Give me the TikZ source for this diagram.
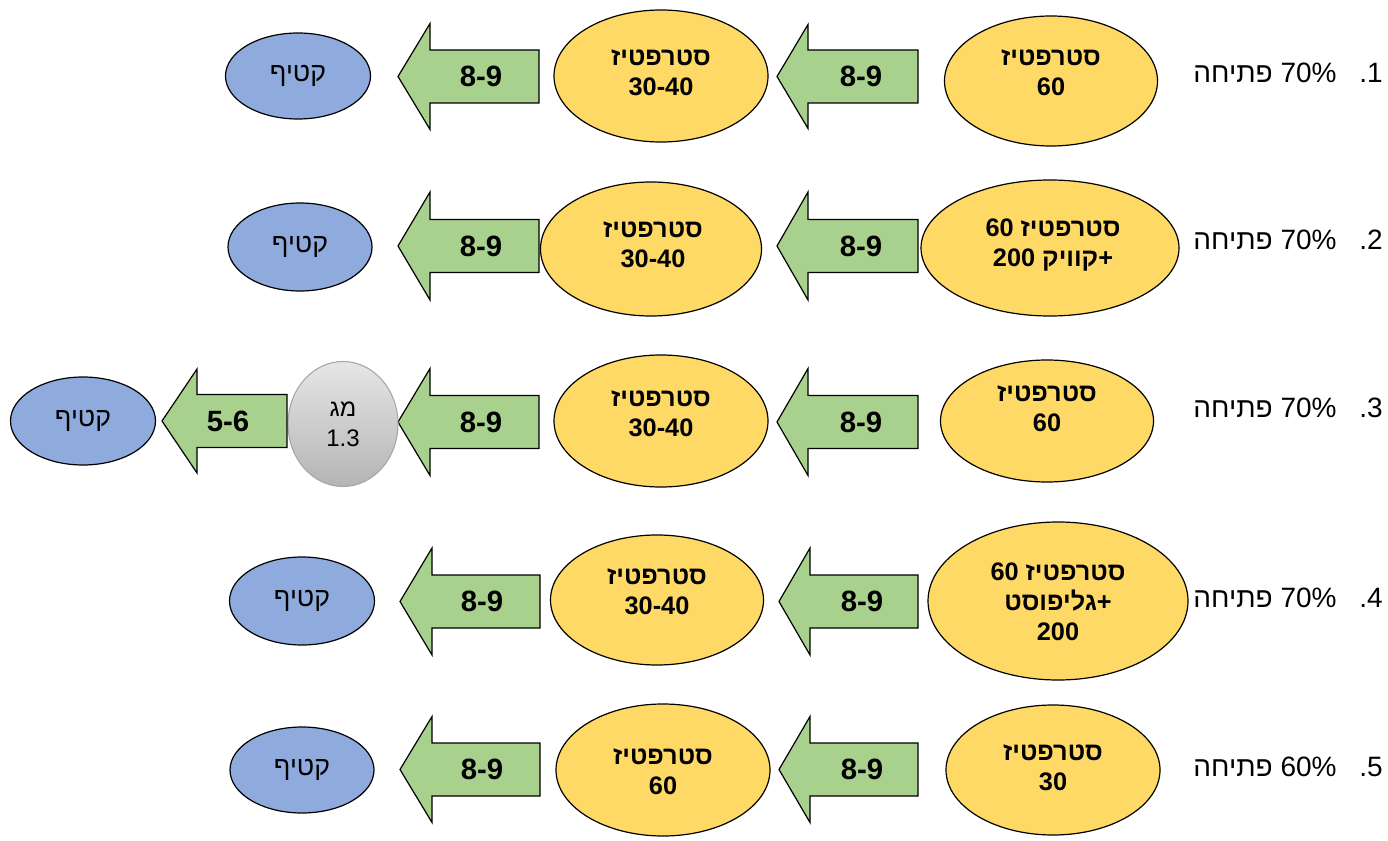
\documentclass[tikz,border=0pt]{standalone}
\usepackage{fontspec}
\setmainfont{Liberation Sans}[Script=Hebrew]
\usetikzlibrary{shapes.geometric}
\TeXXeTstate=1
\newcommand\RL[1]{\beginR #1\endR}
\newcommand\LR[1]{\beginL #1\endL{}}
\definecolor{yellowfill}{HTML}{FFD966}
\definecolor{greenfill}{HTML}{A9D18E}
\definecolor{bluefill}{HTML}{8FAADC}
\definecolor{graytop}{HTML}{E6E6E6}
\definecolor{graybot}{HTML}{B4B4B4}
\definecolor{grayedge}{HTML}{A6A6A6}
\newcommand\blockarr[8]{%
  \draw[arrbody] (#2,#5) -- (#3,#5-#8) -- (#3,#5-26.5) -- (#4,#5-26.5) -- (#4,#5+26.5) -- (#3,#5+26.5) -- (#3,#5+#8) -- cycle;
  \node[arrtxt] (#1) at (#7,#5) {#6};}
\begin{document}
\begin{tikzpicture}[x=0.75pt,y=-0.75pt,
  sz/.style 2 args={minimum width=#1*0.75pt, minimum height=#2*0.75pt},
  yell/.style={ellipse, draw=black, line width=0.9pt, fill=yellowfill, inner sep=0pt},
  blue/.style={ellipse, draw=black, line width=0.9pt, fill=bluefill, inner sep=0pt, font=\fontsize{20}{23}\selectfont},
  grayell/.style={ellipse, draw=grayedge, line width=0.8pt, top color=graytop, bottom color=graybot, inner sep=0pt, align=center, font=\fontsize{18}{22.5}\selectfont},
  ytxt/.style={align=center, inner sep=0pt, font=\fontsize{19}{22.5}\selectfont\bfseries},
  arrbody/.style={draw=black, line width=0.9pt, fill=greenfill, line join=miter},
  arrtxt/.style={inner sep=0pt, font=\fontsize{22}{26}\selectfont\bfseries},
  lbl/.style={inner sep=0pt, font=\fontsize{21}{25}\selectfont}
]
\useasboundingbox (0,0) rectangle (1388,841);

% Row 1
\node[yell, sz={213}{130}] (r1a) at (1051,81) {};
\node[ytxt] (r1at) at (1051,73) {\RL{סטרפטיז}\\60};
\blockarr{r1x}{777}{808}{918}{76.5}{8-9}{861}{52}
\node[yell, sz={214}{132}] (r1b) at (661,76) {};
\node[ytxt] (r1bt) at (661,73) {\RL{סטרפטיז}\\30-40};
\blockarr{r1y}{398}{430}{539}{76.5}{8-9}{481}{53}
\node[blue, sz={145}{86}] (r1c) at (298,76) {\RL{קטיף}};
\node[lbl] (r1l) at (1265,73) {\RL{\LR{70\%} פתיחה}};
\node[lbl] (r1n) at (1371,73) {\RL{\LR{1}.}};

% Row 2
\node[yell, sz={258}{136}] (r2a) at (1050,248) {};
\node[ytxt] (r2at) at (1053,245) {\RL{סטרפטיז \LR{60}}\\\RL{+\kern0pt קוויק \LR{200}}};
\blockarr{r2x}{777}{808}{918}{246}{8-9}{861}{54}
\node[yell, sz={221}{134}] (r2b) at (651,249) {};
\node[ytxt] (r2bt) at (653,245) {\RL{סטרפטיז}\\30-40};
\blockarr{r2y}{398}{430}{539}{246}{8-9}{481}{54}
\node[blue, sz={144}{88}] (r2c) at (300,247) {\RL{קטיף}};
\node[lbl] (r2l) at (1265,240) {\RL{\LR{70\%} פתיחה}};
\node[lbl] (r2n) at (1371,240) {\RL{\LR{2}.}};

% Row 3
\node[yell, sz={213}{122}] (r3a) at (1047,421) {};
\node[ytxt] (r3at) at (1047,409) {\RL{סטרפטיז}\\60};
\blockarr{r3x}{777}{808}{918}{422}{8-9}{861}{53.5}
\node[yell, sz={214}{132}] (r3b) at (661,421) {};
\node[ytxt] (r3bt) at (661,414) {\RL{סטרפטיז}\\30-40};
\blockarr{r3y}{398}{430}{539}{422}{8-9}{481}{53.5}
\node[grayell, sz={110}{125}] (r3g) at (343,424) {\RL{מג}\\1.3};
\blockarr{r3z}{162}{197}{287}{421}{5-6}{228}{52}
\node[blue, sz={145}{88}] (r3c) at (83,421) {\RL{קטיף}};
\node[lbl] (r3l) at (1265,408) {\RL{\LR{70\%} פתיחה}};
\node[lbl] (r3n) at (1371,408) {\RL{\LR{3}.}};

% Row 4
\node[yell, sz={260}{158}] (r4a) at (1058,601) {};
\node[ytxt] (r4at) at (1058,602) {\RL{סטרפטיז \LR{60}}\\\RL{+\kern0pt גליפוסט}\\200};
\blockarr{r4x}{779}{810}{918}{601.5}{8-9}{862}{53.5}
\node[yell, sz={213}{130}] (r4b) at (657,600) {};
\node[ytxt] (r4bt) at (657,592) {\RL{סטרפטיז}\\30-40};
\blockarr{r4y}{400}{432}{540}{601.5}{8-9}{482}{53.5}
\node[blue, sz={145}{88}] (r4c) at (302,601) {\RL{קטיף}};
\node[lbl] (r4l) at (1265,598) {\RL{\LR{70\%} פתיחה}};
\node[lbl] (r4n) at (1371,598) {\RL{\LR{4}.}};

% Row 5
\node[yell, sz={214}{130}] (r5a) at (1053,770) {};
\node[ytxt] (r5at) at (1053,768) {\RL{סטרפטיז}\\30};
\blockarr{r5x}{779}{810}{918}{769.5}{8-9}{862}{53}
\node[yell, sz={214}{132}] (r5b) at (663,770) {};
\node[ytxt] (r5bt) at (663,772) {\RL{סטרפטיז}\\60};
\blockarr{r5y}{400}{432}{540}{769.5}{8-9}{482}{53}
\node[blue, sz={144}{86}] (r5c) at (302,770) {\RL{קטיף}};
\node[lbl] (r5l) at (1265,767) {\RL{\LR{60\%} פתיחה}};
\node[lbl] (r5n) at (1371,767) {\RL{\LR{5}.}};
\end{tikzpicture}
\end{document}
